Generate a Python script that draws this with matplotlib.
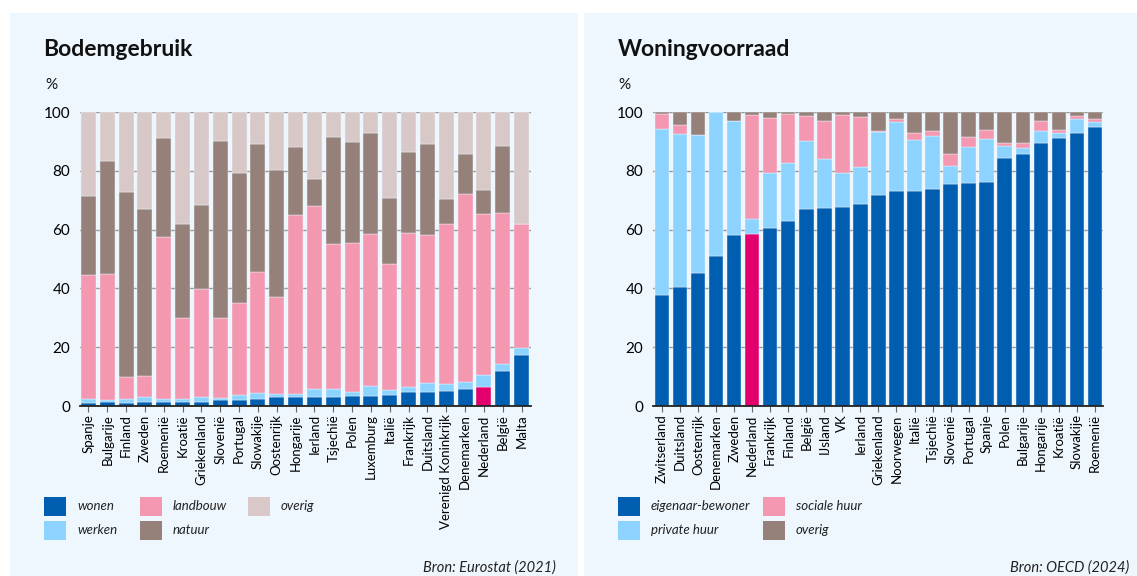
import matplotlib.pyplot as plt
from matplotlib.patches import Rectangle
import numpy as np

plt.rcParams['font.family'] = ['Lato', 'DejaVu Sans']

# --- Bodemgebruik (Eurostat 2021), cumulative tops ---
land_landen = ["Spanje", "Bulgarije", "Finland", "Zweden", "Roemenië", "Kroatië",
               "Griekenland", "Slovenië", "Portugal", "Slowakije", "Oostenrijk",
               "Hongarije", "Ierland", "Tsjechië", "Polen", "Luxemburg", "Italië",
               "Frankrijk", "Duitsland", "Verenigd Koninkrijk", "Denemarken",
               "Nederland", "België", "Malta"]
wonen = [1.0, 1.2, 1.0, 1.3, 1.5, 1.5, 1.5, 2.0, 2.0, 2.3, 3.0, 3.0,
         3.0, 3.2, 3.4, 3.4, 3.7, 4.6, 4.8, 5.1, 5.9, 6.3, 11.8, 17.4]
werken_top = [2.3, 2.0, 2.3, 3.0, 2.3, 2.5, 3.0, 2.8, 3.7, 4.5, 4.0, 4.2,
              5.7, 5.9, 4.8, 6.8, 5.5, 6.3, 7.8, 7.4, 8.2, 10.4, 14.4, 19.7]
landbouw_top = [44.6, 45.0, 10.0, 10.3, 57.4, 30.0, 39.9, 30.0, 35.0, 45.5, 37.0, 65.0,
                68.0, 55.2, 55.3, 58.6, 48.4, 58.7, 58.2, 61.9, 72.0, 65.2, 65.6, 62.0]
natuur_top = [71.5, 83.5, 72.8, 67.0, 91.0, 62.0, 68.5, 90.0, 79.4, 89.2, 80.3, 88.0,
              77.2, 91.4, 89.8, 92.9, 70.9, 86.4, 89.0, 70.3, 85.8, 73.6, 88.3, 62.0]

# --- Woningvoorraad (OECD 2024), cumulative tops ---
won_landen = ["Zwitserland", "Duitsland", "Oostenrijk", "Denemarken", "Zweden",
              "Nederland", "Frankrijk", "Finland", "België", "IJsland", "VK",
              "Ierland", "Griekenland", "Noorwegen", "Italië", "Tsjechië",
              "Slovenië", "Portugal", "Spanje", "Polen", "Bulgarije", "Hongarije",
              "Kroatië", "Slowakije", "Roemenië"]
eigenaar = [37.6, 40.6, 45.3, 50.9, 58.3, 58.5, 60.6, 63.0, 67.1, 67.3, 67.8, 68.8,
            71.7, 73.1, 73.2, 73.8, 75.4, 76.0, 76.2, 84.3, 85.6, 89.3, 91.3, 92.7, 94.8]
private_top = [94.2, 92.6, 92.3, 100.0, 97.0, 63.5, 79.1, 82.5, 90.1, 84.1, 79.1, 81.3,
               93.2, 96.5, 90.6, 91.9, 81.8, 88.1, 90.9, 88.5, 87.9, 93.4, 92.7, 97.7, 96.5]
sociale_top = [99.4, 95.7, 92.3, 100.0, 97.0, 99.1, 98.0, 99.3, 98.6, 96.8, 99.1, 98.2,
               93.4, 97.7, 92.9, 93.4, 85.7, 91.5, 94.0, 89.6, 89.4, 96.8, 93.9, 98.8, 97.7]

C_DONKER = "#005eb0"
C_LICHT = "#8dd3ff"
C_ROZE = "#f497b0"
C_BRUIN = "#958179"
C_GRIJS = "#d8c8c8"
C_NL = "#e3006d"
BG = "#eef7fe"

W, H = 1137, 576
fig = plt.figure(figsize=(W / 100, H / 100), dpi=100)
fig.patch.set_facecolor("white")

def px(x, y):
    return x / W, 1 - y / H

# panel backgrounds
for x0, x1 in [(10, 578), (584, 1137)]:
    fig.patches.append(Rectangle(px(x0, 576), (x1 - x0) / W, (576 - 13) / H,
                                 transform=fig.transFigure, facecolor=BG,
                                 edgecolor="none", zorder=-10))

def make_axes(left, right, top=112, bottom=406):
    ax = fig.add_axes([left / W, 1 - bottom / H, (right - left) / W, (bottom - top) / H])
    ax.set_facecolor("none")
    ax.set_ylim(0, 100)
    ax.set_yticks([0, 20, 40, 60, 80, 100])
    ax.grid(axis="y", color="#9a9a9a", lw=1.0, zorder=0)
    ax.set_axisbelow(True)
    for s in ["top", "right", "left"]:
        ax.spines[s].set_visible(False)
    ax.spines["bottom"].set_color("#222222")
    ax.spines["bottom"].set_linewidth(1.3)
    ax.spines["bottom"].set_zorder(5)
    ax.tick_params(axis="y", length=0, labelsize=11, pad=7)
    ax.tick_params(axis="x", length=4, color="#666666", labelsize=9.5, pad=2)
    return ax

# left chart
ax1 = make_axes(80, 531)
x1 = np.arange(len(land_landen))
wonen_kl = [C_NL if n == "Nederland" else C_DONKER for n in land_landen]
ax1.bar(x1, wonen, width=0.8, color=wonen_kl, zorder=2, edgecolor=BG, linewidth=0.3)
prev = np.array(wonen)
for t, c in zip([werken_top, landbouw_top, natuur_top, [100] * len(x1)],
                [C_LICHT, C_ROZE, C_BRUIN, C_GRIJS]):
    t = np.array(t)
    ax1.bar(x1, t - prev, bottom=prev, width=0.8, color=c, zorder=2,
            edgecolor=BG, linewidth=0.3)
    prev = t
ax1.set_xlim(-0.45, 23.5)
ax1.set_xticks(x1)
ax1.set_xticklabels(land_landen, rotation=90)

# right chart
ax2 = make_axes(653, 1103)
x2 = np.arange(len(won_landen))
eig_kl = [C_NL if n == "Nederland" else C_DONKER for n in won_landen]
ax2.bar(x2, eigenaar, width=0.8, color=eig_kl, zorder=2, edgecolor=BG, linewidth=0.3)
prev = np.array(eigenaar)
for t, c in zip([private_top, sociale_top, [100] * len(x2)], [C_LICHT, C_ROZE, C_BRUIN]):
    t = np.array(t)
    ax2.bar(x2, t - prev, bottom=prev, width=0.8, color=c, zorder=2,
            edgecolor=BG, linewidth=0.3)
    prev = t
ax2.set_xlim(-0.5, 24.45)
ax2.set_xticks(x2)
ax2.set_xticklabels(won_landen, rotation=90)

# titles and units
fig.text(*px(43, 50), "Bodemgebruik", fontsize=16.5, fontweight="bold", va="center", color="#111111")
fig.text(*px(45, 85), "%", fontsize=11, va="center", color="#111111")
fig.text(*px(618, 50), "Woningvoorraad", fontsize=16.5, fontweight="bold", va="center", color="#111111")
fig.text(*px(618, 85), "%", fontsize=11, va="center", color="#111111")

# legends
def legend_item(x, y, color, label):
    fig.patches.append(Rectangle(px(x, y + 10), 22 / W, 19 / H, transform=fig.transFigure,
                                 facecolor=color, edgecolor="none", zorder=3))
    fig.text(*px(x + 33, y), label, fontsize=9.5, style="italic", va="center", color="#222222")

legend_item(44, 506, C_DONKER, "wonen")
legend_item(44, 530, C_LICHT, "werken")
legend_item(140, 506, C_ROZE, "landbouw")
legend_item(140, 530, C_BRUIN, "natuur")
legend_item(248, 506, C_GRIJS, "overig")

legend_item(618, 506, C_DONKER, "eigenaar-bewoner")
legend_item(618, 530, C_LICHT, "private huur")
legend_item(763, 506, C_ROZE, "sociale huur")
legend_item(763, 530, C_BRUIN, "overig")

fig.text(*px(556, 568), "Bron: Eurostat (2021)", fontsize=10.5, style="italic", ha="right", va="center", color="#222222")
fig.text(*px(1129, 568), "Bron: OECD (2024)", fontsize=10.5, style="italic", ha="right", va="center", color="#222222")

fig.savefig("out.png", dpi=100, facecolor="white")
